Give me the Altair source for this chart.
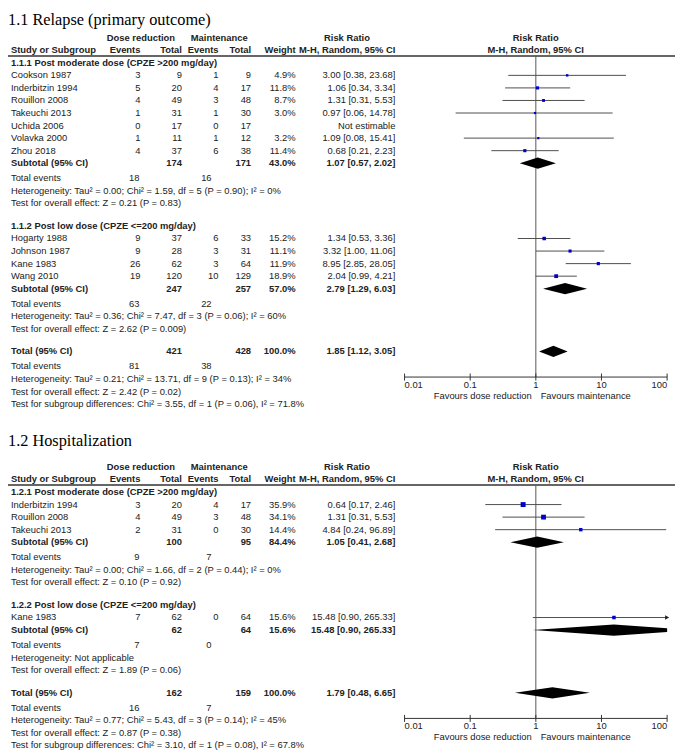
import math
import altair as alt
import pandas as pd

# ------------------------------------------------------------------ data
section_titles = ["1.1 Relapse (primary outcome)", "1.2 Hospitalization"]

# --- 1.1.1
s11_title = "1.1.1 Post moderate dose (CPZE >200 mg/day)"
s11_study = ["Cookson 1987", "Inderbitzin 1994", "Rouillon 2008", "Takeuchi 2013",
             "Uchida 2006", "Volavka 2000", "Zhou 2018"]
s11_ev_dr = [3, 5, 4, 1, 0, 1, 4]
s11_tot_dr = [9, 20, 49, 31, 17, 11, 37]
s11_ev_m = [1, 4, 3, 1, 0, 1, 6]
s11_tot_m = [9, 17, 48, 30, 17, 12, 38]
s11_wt = [4.9, 11.8, 8.7, 3.0, None, 3.2, 11.4]
s11_rr = [3.00, 1.06, 1.31, 0.97, None, 1.09, 0.68]
s11_lo = [0.38, 0.34, 0.31, 0.06, None, 0.08, 0.21]
s11_hi = [23.68, 3.34, 5.53, 14.78, None, 15.41, 2.23]
s11_sub = [174, 171, 43.0, 1.07, 0.57, 2.02]
s11_events = [18, 16]
s11_het = "Heterogeneity: Tau\u00b2 = 0.00; Chi\u00b2 = 1.59, df = 5 (P = 0.90); I\u00b2 = 0%"
s11_test = "Test for overall effect: Z = 0.21 (P = 0.83)"

# --- 1.1.2
s12_title = "1.1.2 Post low dose (CPZE <=200 mg/day)"
s12_study = ["Hogarty 1988", "Johnson 1987", "Kane 1983", "Wang 2010"]
s12_ev_dr = [9, 9, 26, 19]
s12_tot_dr = [37, 28, 62, 120]
s12_ev_m = [6, 3, 3, 10]
s12_tot_m = [33, 31, 64, 129]
s12_wt = [15.2, 11.1, 11.9, 18.9]
s12_rr = [1.34, 3.32, 8.95, 2.04]
s12_lo = [0.53, 1.00, 2.85, 0.99]
s12_hi = [3.36, 11.06, 28.05, 4.21]
s12_sub = [247, 257, 57.0, 2.79, 1.29, 6.03]
s12_events = [63, 22]
s12_het = "Heterogeneity: Tau\u00b2 = 0.36; Chi\u00b2 = 7.47, df = 3 (P = 0.06); I\u00b2 = 60%"
s12_test = "Test for overall effect: Z = 2.62 (P = 0.009)"

s1_total = [421, 428, 100.0, 1.85, 1.12, 3.05]
s1_total_events = [81, 38]
s1_total_het = "Heterogeneity: Tau\u00b2 = 0.21; Chi\u00b2 = 13.71, df = 9 (P = 0.13); I\u00b2 = 34%"
s1_total_test = "Test for overall effect: Z = 2.42 (P = 0.02)"
s1_subgroup = "Test for subgroup differences: Chi\u00b2 = 3.55, df = 1 (P = 0.06), I\u00b2 = 71.8%"

# --- 1.2.1
s21_title = "1.2.1 Post moderate dose (CPZE >200 mg/day)"
s21_study = ["Inderbitzin 1994", "Rouillon 2008", "Takeuchi 2013"]
s21_ev_dr = [3, 4, 2]
s21_tot_dr = [20, 49, 31]
s21_ev_m = [4, 3, 0]
s21_tot_m = [17, 48, 30]
s21_wt = [35.9, 34.1, 14.4]
s21_rr = [0.64, 1.31, 4.84]
s21_lo = [0.17, 0.31, 0.24]
s21_hi = [2.46, 5.53, 96.89]
s21_sub = [100, 95, 84.4, 1.05, 0.41, 2.68]
s21_events = [9, 7]
s21_het = "Heterogeneity: Tau\u00b2 = 0.00; Chi\u00b2 = 1.66, df = 2 (P = 0.44); I\u00b2 = 0%"
s21_test = "Test for overall effect: Z = 0.10 (P = 0.92)"

# --- 1.2.2
s22_title = "1.2.2 Post low dose (CPZE <=200 mg/day)"
s22_study = ["Kane 1983"]
s22_ev_dr = [7]
s22_tot_dr = [62]
s22_ev_m = [0]
s22_tot_m = [64]
s22_wt = [15.6]
s22_rr = [15.48]
s22_lo = [0.90]
s22_hi = [265.33]
s22_sub = [62, 64, 15.6, 15.48, 0.90, 265.33]
s22_events = [7, 0]
s22_het = "Heterogeneity: Not applicable"
s22_test = "Test for overall effect: Z = 1.89 (P = 0.06)"

s2_total = [162, 159, 100.0, 1.79, 0.48, 6.65]
s2_total_events = [16, 7]
s2_total_het = "Heterogeneity: Tau\u00b2 = 0.77; Chi\u00b2 = 5.43, df = 3 (P = 0.14); I\u00b2 = 45%"
s2_total_test = "Test for overall effect: Z = 0.87 (P = 0.38)"
s2_subgroup = "Test for subgroup differences: Chi\u00b2 = 3.10, df = 1 (P = 0.08), I\u00b2 = 67.8%"

tick_values = [0.01, 0.1, 1, 10, 100]
tick_labels = ["0.01", "0.1", "1", "10", "100"]
favours = ["Favours dose reduction", "Favours maintenance"]
hdr1 = ["Dose reduction", "Maintenance", "Risk Ratio"]
hdr2 = ["Study or Subgroup", "Events", "Total", "Events", "Total", "Weight", "M-H, Random, 95% CI"]

# ------------------------------------------------------------------ layout helpers
W, H = 677, 747
ROW_PX = 12.7
TOP = 51.0
XMIN, XMAX = 0.01, 100
DIAM = 0.45   # half height of diamonds, in rows

def sg(title, study, ev_dr, tot_dr, ev_m, tot_m, wt, rr, lo, hi, sub, events, het, test):
    return dict(title=title, study=study, ev_dr=ev_dr, tot_dr=tot_dr, ev_m=ev_m, tot_m=tot_m,
                wt=wt, rr=rr, lo=lo, hi=hi, sub=sub, events=events, het=het, test=test)

sections = [
    dict(title=section_titles[0],
         groups=[sg(s11_title, s11_study, s11_ev_dr, s11_tot_dr, s11_ev_m, s11_tot_m, s11_wt,
                    s11_rr, s11_lo, s11_hi, s11_sub, s11_events, s11_het, s11_test),
                 sg(s12_title, s12_study, s12_ev_dr, s12_tot_dr, s12_ev_m, s12_tot_m, s12_wt,
                    s12_rr, s12_lo, s12_hi, s12_sub, s12_events, s12_het, s12_test)],
         total=s1_total, events=s1_total_events, het=s1_total_het, test=s1_total_test,
         subgroup=s1_subgroup),
    dict(title=section_titles[1],
         groups=[sg(s21_title, s21_study, s21_ev_dr, s21_tot_dr, s21_ev_m, s21_tot_m, s21_wt,
                    s21_rr, s21_lo, s21_hi, s21_sub, s21_events, s21_het, s21_test),
                 sg(s22_title, s22_study, s22_ev_dr, s22_tot_dr, s22_ev_m, s22_tot_m, s22_wt,
                    s22_rr, s22_lo, s22_hi, s22_sub, s22_events, s22_het, s22_test)],
         total=s2_total, events=s2_total_events, het=s2_total_het, test=s2_total_test,
         subgroup=s2_subgroup),
]

def fmt_ci(rr, lo, hi):
    if rr is None:
        return "Not estimable"
    return f"{rr:.2f} [{lo:.2f}, {hi:.2f}]"

texts = []      # row, col, text, bold
studies = []    # row, rr, lo, hi, wt, arrow
diamonds = []   # id, row, x, y, y2
vlines, hlines, axes = [], [], []

def add(row, col, text, bold=False):
    texts.append(dict(row=row, col=col, text=str(text), bold=bold))

def add_diamond(row, rr, lo, hi):
    did = len(diamonds)
    pts = [(lo, 0.0), (rr, DIAM)]
    if hi > XMAX:
        f = (math.log10(hi) - math.log10(XMAX)) / (math.log10(hi) - math.log10(rr))
        pts.append((XMAX, DIAM * f))
    else:
        pts.append((hi, 0.0))
    for x, h in pts:
        diamonds.append(dict(id=f"d{did}", row=row, x=x, y=row - h, y2=row + h))

base = 0.0
for si, sec in enumerate(sections):
    add(base - (3.4 if si == 0 else 4.07), "title", sec["title"])
    add(base - 2, "h_dr", hdr1[0], True)
    add(base - 2, "h_m", hdr1[1], True)
    add(base - 2, "h_rr", hdr1[2], True)
    add(base - 2, "h_forest", hdr1[2], True)
    for col, t in zip(["study", "ev_dr", "tot_dr", "ev_m", "tot_m", "wt", "rr"], hdr2):
        add(base - 1, col, t, True)
    add(base - 1, "h_forest", hdr2[-1], True)
    hlines.append(dict(row=base - 0.55))
    r = base
    for g in sec["groups"]:
        add(r, "study", g["title"], True)
        for i, name in enumerate(g["study"]):
            rr_ = r + 1 + i
            add(rr_, "study", name)
            add(rr_, "ev_dr", g["ev_dr"][i])
            add(rr_, "tot_dr", g["tot_dr"][i])
            add(rr_, "ev_m", g["ev_m"][i])
            add(rr_, "tot_m", g["tot_m"][i])
            if g["wt"][i] is not None:
                add(rr_, "wt", f"{g['wt'][i]:.1f}%")
            add(rr_, "rr", fmt_ci(g["rr"][i], g["lo"][i], g["hi"][i]))
            if g["rr"][i] is not None:
                studies.append(dict(row=rr_, rr=g["rr"][i], lo=g["lo"][i],
                                    hi=min(g["hi"][i], XMAX), wt=g["wt"][i],
                                    arrow=g["hi"][i] > XMAX))
        n = len(g["study"])
        srow = r + n + 1
        s = g["sub"]
        add(srow, "study", "Subtotal (95% CI)", True)
        add(srow, "tot_dr", s[0], True)
        add(srow, "tot_m", s[1], True)
        add(srow, "wt", f"{s[2]:.1f}%", True)
        add(srow, "rr", fmt_ci(s[3], s[4], s[5]), True)
        add_diamond(srow, s[3], s[4], s[5])
        add(srow + 1.2, "study", "Total events")
        add(srow + 1.2, "tev_dr", g["events"][0])
        add(srow + 1.2, "tev_m", g["events"][1])
        add(srow + 2.2, "study", g["het"])
        add(srow + 3.2, "study", g["test"])
        r = srow + 3.2 + 1.8
    t = sec["total"]
    add(r, "study", "Total (95% CI)", True)
    add(r, "tot_dr", t[0], True)
    add(r, "tot_m", t[1], True)
    add(r, "wt", f"{t[2]:.1f}%", True)
    add(r, "rr", fmt_ci(t[3], t[4], t[5]), True)
    add_diamond(r, t[3], t[4], t[5])
    add(r + 1.2, "study", "Total events")
    add(r + 1.2, "tev_dr", sec["events"][0])
    add(r + 1.2, "tev_m", sec["events"][1])
    add(r + 2.2, "study", sec["het"])
    add(r + 3.2, "study", sec["test"])
    add(r + 4.2, "study", sec["subgroup"])
    axis_row = r + 2.04
    vlines.append(dict(x=1, row=base - 0.55, row2=axis_row))
    axes.append(dict(row=axis_row, lo=tick_values[0], hi=tick_values[-1]))
    base = r + 4.2 + 7.0

# ------------------------------------------------------------------ scales
YS = alt.Scale(domain=[-TOP / ROW_PX, (H - TOP) / ROW_PX], range=[0, H])
XS = alt.Scale(type="log", domain=[XMIN, XMAX], range=[401.3, 667])
TXT = "#222222"
FONT = "Liberation Sans"
FS = 9.5

col_spec = {
    "title": (0, "left"),
    "study": (3, "left"),
    "ev_dr": (134, "right"),
    "tot_dr": (176, "right"),
    "ev_m": (213, "right"),
    "tot_m": (246, "right"),
    "wt": (291, "right"),
    "rr": (392, "right"),
    "tev_dr": (133, "right"),
    "tev_m": (206, "right"),
    "h_dr": (100, "left"),
    "h_m": (185, "left"),
    "h_rr": (343, "center"),
    "h_forest": (534, "center"),
}

tdf = pd.DataFrame(texts)
layers = []
for (col, bold), sub in tdf.groupby(["col", "bold"]):
    x, align = col_spec[col]
    if col == "title":
        mk = alt.Chart(sub).mark_text(align=align, baseline="middle", font="Liberation Serif",
                                      fontSize=16.5, color="#000000")
    else:
        mk = alt.Chart(sub).mark_text(align=align, baseline="middle", font=FONT, fontSize=FS,
                                      fontWeight="bold" if bold else "normal", color=TXT)
    layers.append(mk.encode(x=alt.value(x), y=alt.Y("row:Q", scale=YS, axis=None),
                            text="text:N"))

hdf = pd.DataFrame(hlines)
layers.append(alt.Chart(hdf).mark_rule(color="#333333", strokeWidth=1.5).encode(
    x=alt.value(0), x2=alt.value(675), y=alt.Y("row:Q", scale=YS, axis=None)))

vdf = pd.DataFrame(vlines)
layers.append(alt.Chart(vdf).mark_rule(color="#555555", strokeWidth=1).encode(
    x=alt.X("x:Q", scale=XS, axis=None), y=alt.Y("row:Q", scale=YS, axis=None), y2="row2:Q"))

adf = pd.DataFrame(axes)
layers.append(alt.Chart(adf).mark_rule(color="#333333", strokeWidth=1).encode(
    x=alt.X("lo:Q", scale=XS, axis=None), x2="hi:Q", y=alt.Y("row:Q", scale=YS, axis=None)))

tick_rows = []
for a in axes:
    for v, lab in zip(tick_values, tick_labels):
        al = "left" if v == tick_values[0] else ("right" if v == tick_values[-1] else "center")
        tick_rows.append(dict(row=a["row"], r1=a["row"] - 0.28, r2=a["row"] + 0.28, v=v,
                              lab=lab, al=al))
kdf = pd.DataFrame(tick_rows)
layers.append(alt.Chart(kdf).mark_rule(color="#333333", strokeWidth=1).encode(
    x=alt.X("v:Q", scale=XS, axis=None), y=alt.Y("r1:Q", scale=YS, axis=None), y2="r2:Q"))
for al in ["left", "center", "right"]:
    layers.append(alt.Chart(kdf[kdf.al == al]).mark_text(
        align=al, baseline="middle", dy=8, font=FONT, fontSize=FS, color=TXT).encode(
        x=alt.X("v:Q", scale=XS, axis=None), y=alt.Y("row:Q", scale=YS, axis=None),
        text="lab:N"))

fav_rows = [dict(row=a["row"], lab=favours[0]) for a in axes]
fav_rows2 = [dict(row=a["row"], lab=favours[1]) for a in axes]
layers.append(alt.Chart(pd.DataFrame(fav_rows)).mark_text(
    align="right", baseline="middle", dy=19, font=FONT, fontSize=FS, color=TXT).encode(
    x=alt.value(530), y=alt.Y("row:Q", scale=YS, axis=None), text="lab:N"))
layers.append(alt.Chart(pd.DataFrame(fav_rows2)).mark_text(
    align="left", baseline="middle", dy=19, font=FONT, fontSize=FS, color=TXT).encode(
    x=alt.value(539), y=alt.Y("row:Q", scale=YS, axis=None), text="lab:N"))

sdf = pd.DataFrame(studies)
layers.append(alt.Chart(sdf).mark_rule(color="#4d4d4d", strokeWidth=1).encode(
    x=alt.X("lo:Q", scale=XS, axis=None), x2="hi:Q", y=alt.Y("row:Q", scale=YS, axis=None)))
layers.append(alt.Chart(sdf[sdf.arrow]).mark_point(
    shape="triangle-right", filled=True, color="#222222", size=22, opacity=1).encode(
    x=alt.X("hi:Q", scale=XS, axis=None), y=alt.Y("row:Q", scale=YS, axis=None)))
layers.append(alt.Chart(sdf).mark_square(color="#0000cc", opacity=1).encode(
    x=alt.X("rr:Q", scale=XS, axis=None), y=alt.Y("row:Q", scale=YS, axis=None),
    size=alt.Size("wt:Q", scale=alt.Scale(domain=[3, 36], range=[5, 25], zero=False),
                  legend=None)))

ddf = pd.DataFrame(diamonds)
layers.append(alt.Chart(ddf).mark_area(orient="vertical", color="#000000", opacity=1).encode(
    x=alt.X("x:Q", scale=XS, axis=None), y=alt.Y("y:Q", scale=YS, axis=None), y2="y2:Q",
    detail="id:N"))

chart = alt.layer(*layers).properties(
    width=W, height=H, padding=0, autosize=alt.AutoSizeParams(type="none")
).configure_view(stroke=None)

chart.save("out.html", embed_options={"renderer": "svg", "actions": False})
